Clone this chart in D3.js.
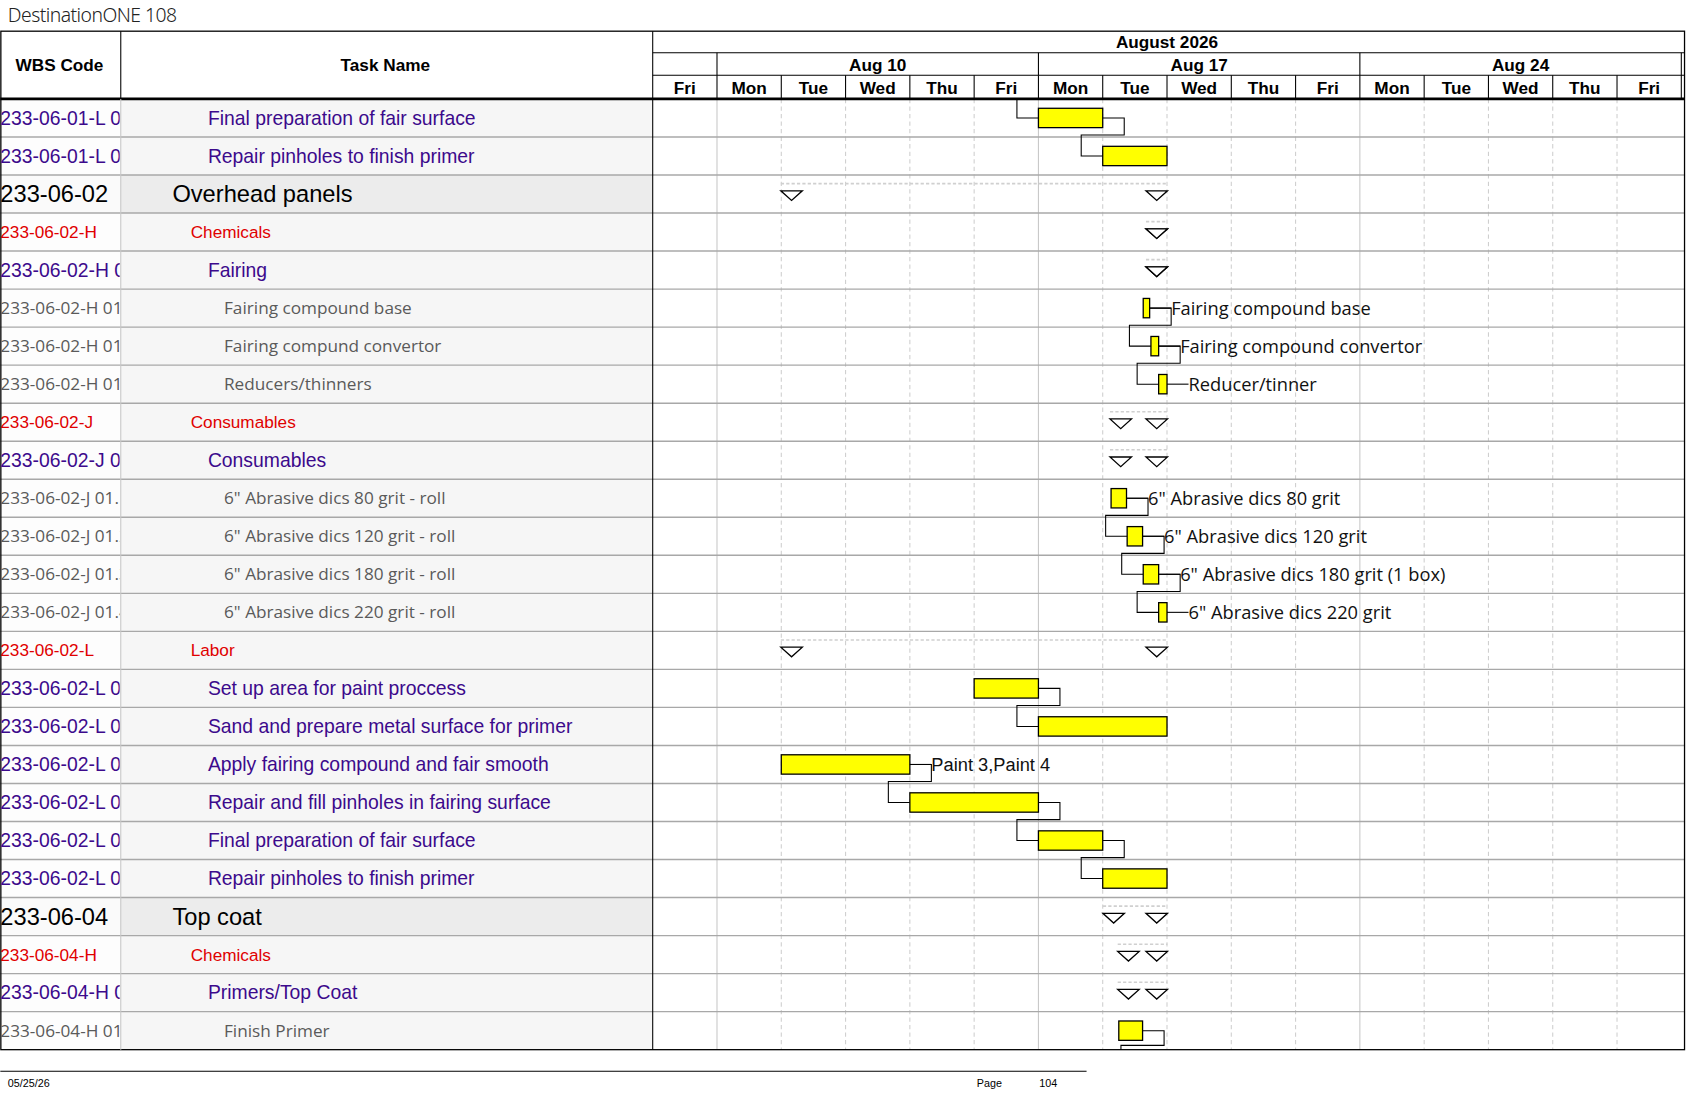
<!DOCTYPE html>
<html><head><meta charset="utf-8">
<script src="https://cdn.jsdelivr.net/npm/d3@7"></script>
<style>body{margin:0;background:#fff}svg{display:block}</style>
</head><body>
<script>
// ---- data ----
const dayLabels = ["Fri","Mon","Tue","Wed","Thu","Fri","Mon","Tue","Wed","Thu","Fri","Mon","Tue","Wed","Thu","Fri"];
const weekLabels = [{label:"Aug 10",start:1,end:6},{label:"Aug 17",start:6,end:11},{label:"Aug 24",start:11,end:16}];
const monthLabel = "August 2026";
const wbsCodes = ["233-06-01-L 01","233-06-01-L 02","233-06-02","233-06-02-H","233-06-02-H 01","233-06-02-H 01.1","233-06-02-H 01.2","233-06-02-H 01.3","233-06-02-J","233-06-02-J 01","233-06-02-J 01.1","233-06-02-J 01.2","233-06-02-J 01.3","233-06-02-J 01.4","233-06-02-L","233-06-02-L 01","233-06-02-L 02","233-06-02-L 03","233-06-02-L 04","233-06-02-L 05","233-06-02-L 06","233-06-04","233-06-04-H","233-06-04-H 01","233-06-04-H 01.1"];
const taskNames = ["Final preparation of fair surface","Repair pinholes to finish primer","Overhead panels","Chemicals","Fairing","Fairing compound base","Fairing compund convertor","Reducers/thinners","Consumables","Consumables","6\" Abrasive dics 80 grit - roll","6\" Abrasive dics 120 grit - roll","6\" Abrasive dics 180 grit - roll","6\" Abrasive dics 220 grit - roll","Labor","Set up area for paint proccess","Sand and prepare metal surface for primer","Apply fairing compound and fair smooth","Repair and fill pinholes in fairing surface","Final preparation of fair surface","Repair pinholes to finish primer","Top coat","Chemicals","Primers/Top Coat","Finish Primer"];
const levels = [3,3,1,2,3,4,4,4,2,3,4,4,4,4,2,3,3,3,3,3,3,1,2,3,4];
// task bars in day units (0 = Fri Aug 7)
const barStart = [6,7,null,null,null,7.63,7.75,7.87,null,null,7.13,7.38,7.63,7.87,null,5,6,2,4,6,7,null,null,null,7.25];
const barEnd   = [7,8,null,null,null,7.73,7.87,8,null,null,7.37,7.62,7.87,8,null,6,8,4,6,7,8,null,null,null,7.62];
// summary marker positions (day units)
const sumStart = [null,null,2.16,7.84,7.84,null,null,null,7.28,7.28,null,null,null,null,2.16,null,null,null,null,null,null,7.17,7.4,7.4,null];
const sumEnd   = [null,null,7.84,7.84,7.84,null,null,null,7.84,7.84,null,null,null,null,7.84,null,null,null,null,null,null,7.84,7.84,7.84,null];
const barLabels = [null,null,null,null,null,"Fairing compound base","Fairing compound convertor","Reducer/tinner",null,null,"6\" Abrasive dics 80 grit","6\" Abrasive dics 120 grit","6\" Abrasive dics 180 grit (1 box)","6\" Abrasive dics 220 grit",null,null,null,"Paint 3,Paint 4",null,null,null,null,null,null,null];
const links = [[0,1],[5,6],[6,7],[10,11],[11,12],[12,13],[15,16],[17,18],[18,19],[19,20]];

(function(){
const W=1568,H=1020;
const svg=d3.select("body").append("svg").attr("width",1687).attr("height",1097).attr("viewBox",`0 0 ${W} ${H}`);
const colTask=112,colChart=606.6,rightX=1566;
const topY=29,headBot=92,tableBot=976;
const x=d3.scaleLinear().domain([0,16]).range([colChart,1563]);
const n=wbsCodes.length;
const y=d3.scaleBand().domain(d3.range(n)).range([headBot,tableBot]);
const rh=y.bandwidth();
const hdr="Arial, 'Liberation Sans', sans-serif";

svg.append("text").attr("x",7).attr("y",20).attr("font-family","'Noto Sans', sans-serif").attr("font-weight",300).attr("font-size",18).attr("fill","#222").attr("letter-spacing",-0.5).text("DestinationONE 108");

svg.selectAll(".bg").data(d3.range(n)).join("rect").attr("x",0).attr("y",i=>y(i)).attr("width",colChart).attr("height",rh)
  .attr("fill",i=>levels[i]===1?"#ececec":"#f6f6f6");
svg.selectAll(".bgw").data(d3.range(n)).join("rect").attr("x",0).attr("y",i=>y(i)).attr("width",colTask).attr("height",rh)
  .attr("fill",i=>levels[i]===1?"#fafafa":"#fdfdfd");

const g=svg.append("g");
d3.range(1,16).forEach(d=>{
  const wk=weekLabels.some(w=>w.start===d);
  g.append("line").attr("x1",x(d)).attr("x2",x(d)).attr("y1",headBot).attr("y2",tableBot)
   .attr("stroke",wk?"#c8c8c8":"#cfcfcf").attr("stroke-dasharray",wk?null:"4,3");
});
d3.range(1,n).forEach(i=>g.append("line").attr("x1",0).attr("x2",rightX).attr("y1",y(i)).attr("y2",y(i)).attr("stroke","#a8a8a8").attr("stroke-width",1.3));

const h=svg.append("g").attr("font-family",hdr).attr("font-weight","bold").attr("text-anchor","middle");
h.append("text").attr("x",55).attr("y",66).attr("font-size",16).text("WBS Code");
h.append("text").attr("x",358).attr("y",66).attr("font-size",16).text("Task Name");
h.append("text").attr("x",x(8)).attr("y",45).attr("font-size",16).text(monthLabel);
h.append("line").attr("x1",colChart).attr("x2",rightX).attr("y1",49).attr("y2",49).attr("stroke","#000");
h.append("line").attr("x1",colChart).attr("x2",rightX).attr("y1",70).attr("y2",70).attr("stroke","#000");
weekLabels.forEach(w=>{
  h.append("text").attr("x",(x(w.start)+x(w.end))/2).attr("y",66).attr("font-size",16).text(w.label);
  h.append("line").attr("x1",x(w.start)).attr("x2",x(w.start)).attr("y1",49).attr("y2",70).attr("stroke","#000");
});
h.append("line").attr("x1",x(16)).attr("x2",x(16)).attr("y1",49).attr("y2",92).attr("stroke","#000");
dayLabels.forEach((d,i)=>{
  h.append("text").attr("x",(x(i)+x(i+1))/2).attr("y",87).attr("font-size",16).text(d);
  if(i>0) h.append("line").attr("x1",x(i)).attr("x2",x(i)).attr("y1",70).attr("y2",92).attr("stroke","#000");
});

svg.append("rect").attr("x",0.5).attr("y",topY).attr("width",rightX-0.5).attr("height",tableBot-topY).attr("fill","none").attr("stroke","#000").attr("stroke-width",1.2);
svg.append("line").attr("x1",0).attr("x2",rightX).attr("y1",headBot).attr("y2",headBot).attr("stroke","#000").attr("stroke-width",2.5);
svg.append("line").attr("x1",colTask).attr("x2",colTask).attr("y1",headBot).attr("y2",tableBot).attr("stroke","#c8c8c8");
svg.append("line").attr("x1",colTask).attr("x2",colTask).attr("y1",topY).attr("y2",headBot).attr("stroke","#000");
svg.append("line").attr("x1",colChart).attr("x2",colChart).attr("y1",topY).attr("y2",tableBot).attr("stroke","#000");

const sty={1:{c:"#000",s:22,f:"'Liberation Sans', Arial",ind:160},2:{c:"#e00000",s:16,f:"'Liberation Sans', Arial",ind:177},3:{c:"#3c0a8c",s:18,f:"'Liberation Sans', Arial",ind:193},4:{c:"#5a5a5a",s:16,f:"'Open Sans', sans-serif",ind:208}};
svg.append("clipPath").attr("id","wc").append("rect").attr("x",0).attr("y",0).attr("width",colTask-1).attr("height",H);
const wg=svg.append("g").attr("clip-path","url(#wc)");
d3.range(n).forEach(i=>{
  const s=sty[levels[i]], cy=y(i)+rh/2;
  wg.append("text").attr("x",0).attr("y",cy).attr("dy","0.35em").attr("font-family",s.f).attr("font-size",s.s).attr("fill",s.c).text(wbsCodes[i]);
  svg.append("text").attr("x",s.ind).attr("y",cy).attr("dy","0.35em").attr("font-family",s.f).attr("font-size",s.s).attr("fill",s.c).text(taskNames[i]);
});

const cg=svg.append("g");
const tri=(cx,ty)=>`M${cx-10},${ty}L${cx+10},${ty}L${cx},${ty+9}Z`;
d3.range(n).forEach(i=>{
  if(sumStart[i]==null) return;
  const ty=y(i)+rh/2, x1=x(sumStart[i]), x2=x(sumEnd[i]);
  cg.append("line").attr("x1",x1-10).attr("x2",x2+10).attr("y1",y(i)+8).attr("y2",y(i)+8).attr("stroke","#d0d0d0").attr("stroke-width",1.5).attr("stroke-dasharray","3,2");
  [x1,x2].forEach(px=>cg.append("path").attr("d",tri(px,ty-3)).attr("fill","#fff").attr("stroke","#000").attr("stroke-width",1.2));
});

const conn=(i,j)=>{
  const xe=x(barEnd[i]), y1=y(i)+rh/2, xs=x(barStart[j]), y2=y(j)+rh/2, ym=y(i)+rh/2+rh*0.45;
  cg.append("path").attr("d",`M${xe},${y1}H${xe+20}V${ym}H${xs-20}V${y2}H${xs}`).attr("fill","none").attr("stroke","#000");
};
links.forEach(([a,b])=>conn(a,b));
cg.append("path").attr("d",`M${x(barStart[0])-20},${headBot}V${y(0)+rh/2}H${x(barStart[0])}`).attr("fill","none").attr("stroke","#000");
{const i=n-1,xe=x(barEnd[i]),y1=y(i)+rh/2,ym=y(i)+rh-4;
 cg.append("path").attr("d",`M${xe},${y1}H${xe+20}V${ym}H${x(barStart[i])+2}V${tableBot}`).attr("fill","none").attr("stroke","#000");}

d3.range(n).forEach(i=>{
  if(barStart[i]==null) return;
  const cy=y(i)+rh/2;
  cg.append("rect").attr("x",x(barStart[i])).attr("y",cy-9).attr("width",x(barEnd[i])-x(barStart[i])).attr("height",18).attr("fill","#ffff00").attr("stroke","#000").attr("stroke-width",1.2);
  if(barLabels[i]){
    const xe=x(barEnd[i]);
    cg.append("line").attr("x1",xe).attr("x2",xe+20).attr("y1",cy).attr("y2",cy).attr("stroke","#000");
    cg.append("text").attr("x",xe+20).attr("y",cy).attr("dy","0.35em").attr("font-size",17)
      .attr("font-family",i===17?"'Liberation Sans', Arial":"'Open Sans', sans-serif").attr("fill","#111").text(barLabels[i]);
  }
});

svg.append("line").attr("x1",0).attr("x2",1010).attr("y1",996).attr("y2",996).attr("stroke","#000");
const ft=svg.append("g").attr("font-family","'Liberation Sans', Arial").attr("font-size",10);
ft.append("text").attr("x",7).attr("y",1011).text("05/25/26");
ft.append("text").attr("x",908).attr("y",1011).text("Page");
ft.append("text").attr("x",966).attr("y",1011).text("104");
})();
</script>
</body></html>
